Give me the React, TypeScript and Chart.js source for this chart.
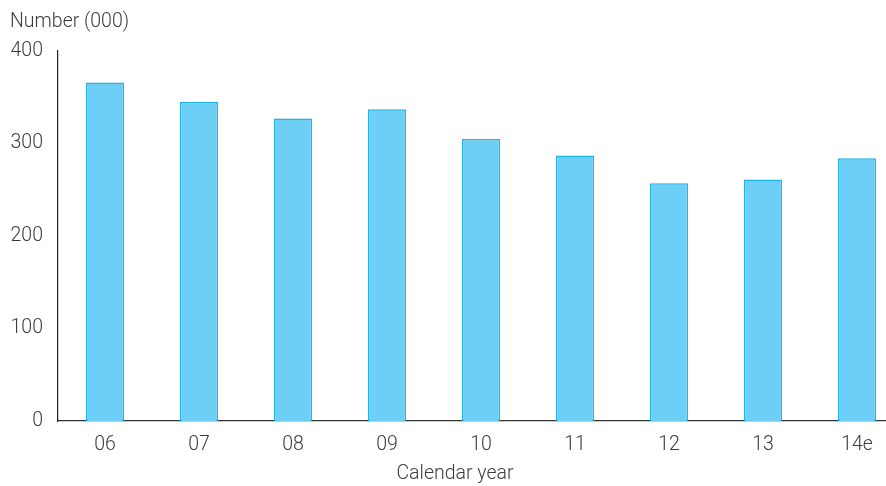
import React, { useEffect, useRef } from "react";
import { Chart, registerables } from "chart.js";

Chart.register(...registerables);

const categories = ["06", "07", "08", "09", "10", "11", "12", "13", "14e"];
const values = [366, 345, 327, 337, 305, 287, 257, 261, 284];
const yTicks = [0, 100, 200, 300, 400];
const yTitle = "Number (000)";
const xTitle = "Calendar year";

const FONT = "Roboto, 'Liberation Sans', sans-serif";
const TEXT = "#3c3c3c";

const titlesPlugin = {
  id: "titles",
  afterDraw(chart: any) {
    const ctx = chart.ctx;
    ctx.save();
    ctx.fillStyle = TEXT;
    ctx.font = `300 19.5px ${FONT}`;
    ctx.textBaseline = "alphabetic";
    ctx.textAlign = "left";
    ctx.fillText(yTitle, 10, 27);
    ctx.textAlign = "center";
    ctx.fillText(xTitle, 455, 479);
    ctx.restore();
  },
};

export default function App() {
  const ref = useRef<HTMLCanvasElement>(null);
  useEffect(() => {
    document.body.style.margin = "0";
    const chart = new Chart(ref.current!, {
      type: "bar",
      data: {
        labels: categories,
        datasets: [
          {
            data: values,
            backgroundColor: "#6dcff6",
            borderColor: "#1cb4ec",
            borderWidth: 1.5,
            categoryPercentage: 1,
            barPercentage: 0.404,
          },
        ],
      },
      options: {
        responsive: false,
        animation: false,
        layout: { padding: { top: 51, right: 16, left: 0, bottom: 0 } },
        plugins: { legend: { display: false }, tooltip: { enabled: false } },
        scales: {
          x: {
            grid: { display: false, drawTicks: false },
            border: { display: true, color: "#333", width: 1.2 },
            ticks: { color: TEXT, font: { family: FONT, size: 19.5, weight: "300" }, padding: 12 },
            afterFit: (s: any) => {
              s.height = 65;
            },
          },
          y: {
            min: 0,
            max: 400,
            afterBuildTicks: (s: any) => {
              s.ticks = yTicks.map((v) => ({ value: v }));
            },
            grid: { display: false, drawTicks: false },
            border: { display: true, color: "#222", width: 1.2 },
            ticks: { color: TEXT, font: { family: FONT, size: 19.5, weight: "300" }, padding: 15 },
            afterFit: (s: any) => {
              s.width = 58;
            },
          },
        },
      },
      plugins: [titlesPlugin],
    });
    return () => chart.destroy();
  }, []);
  return (
    <div style={{ width: 886, height: 486, overflow: "hidden" }}>
      <canvas ref={ref} width={920} height={486} style={{ display: "block" }} />
    </div>
  );
}
